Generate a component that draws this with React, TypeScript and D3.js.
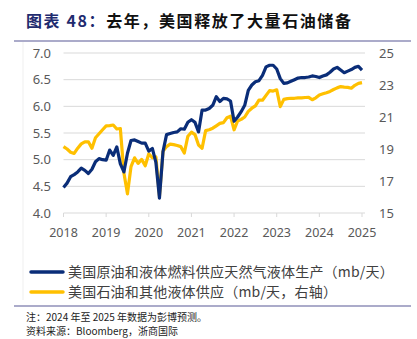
import React from "react";
import * as d3 from "d3";

// Monthly data, Jan 2018 .. Jan 2025
const startYear = 2018;
const ngl: number[] = [
  4.48, 4.56, 4.68, 4.72, 4.77, 4.84, 4.80, 4.74, 4.82, 4.96, 5.02, 5.00,
  4.99, 5.18, 5.08, 5.24, 4.92, 4.77, 5.12, 5.36, 5.37, 5.34, 5.31, 5.31,
  5.16, 5.21, 4.95, 4.28, 5.15, 5.47, 5.49, 5.51, 5.52, 5.58, 5.57, 5.70,
  5.75, 5.70, 5.52, 5.93, 5.93, 5.96, 6.02, 6.18, 6.09, 6.15, 6.14, 6.10,
  5.72, 5.80, 5.90, 6.02, 6.30, 6.40, 6.46, 6.48, 6.58, 6.74, 6.77, 6.77,
  6.70, 6.52, 6.43, 6.44, 6.47, 6.50, 6.53, 6.54, 6.54, 6.55, 6.57, 6.56,
  6.54, 6.57, 6.59, 6.64, 6.70, 6.73, 6.68, 6.63, 6.66, 6.69, 6.73, 6.75,
  6.68,
];
const supply: number[] = [
  19.15, 19.00, 18.80, 18.72, 19.05, 19.32, 19.45, 19.45, 19.05, 19.70, 19.95, 20.20,
  20.44, 20.46, 20.50, 20.25, 20.28, 17.50, 16.20, 17.90, 18.45, 18.10, 18.35, 17.95,
  18.70, 18.45, 18.50, 16.05, 18.85, 19.15, 19.30, 19.27, 19.22, 19.15, 18.75, 19.80,
  20.05, 19.90, 19.25, 19.05, 20.15, 20.20, 20.30, 20.45, 20.60, 20.65, 20.95, 21.05,
  20.20, 20.75, 20.85, 21.00, 21.35, 21.55, 21.70, 22.05, 22.05, 22.35, 22.65, 22.62,
  22.70, 21.65, 22.10, 22.15, 22.17, 22.17, 22.20, 22.20, 22.22, 22.23, 22.08, 22.20,
  22.38, 22.45, 22.52, 22.60, 22.72, 22.82, 22.90, 22.87, 22.85, 22.80, 22.98, 23.10,
  23.15,
];
const yearTicks = [2018, 2019, 2020, 2021, 2022, 2023, 2024, 2025];
const leftTicks = [4.0, 4.5, 5.0, 5.5, 6.0, 6.5, 7.0];
const rightTicks = [15, 17, 19, 21, 23, 25];
const seriesNames = [
  "美国原油和液体燃料供应天然气液体生产（mb/天）",
  "美国石油和其他液体供应（mb/天，右轴）",
];
const titlePrefix = "图表 48：";
const titleText = "去年，美国释放了大量石油储备";
const noteText = "注：2024 年至 2025 年数据为彭博预测。";
const sourceText = "资料来源：Bloomberg，浙商国际";

const BLUE = "#0a2d78";
const YELLOW = "#ffc000";

export default function App() {
  const W = 417, H = 339;
  const x = d3.scaleLinear().domain([0, 84]).range([63.5, 362]);
  const yL = d3.scaleLinear().domain([4, 7]).range([213, 53]);
  const yR = d3.scaleLinear().domain([15, 25]).range([213, 53]);
  const lineL = d3.line<number>().x((_, i) => x(i)).y((d) => yL(d)).curve(d3.curveLinear);
  const lineR = d3.line<number>().x((_, i) => x(i)).y((d) => yR(d)).curve(d3.curveLinear);
  const xm = (yr: number) => x((yr - startYear) * 12);
  const axisFont = "'Noto Sans', 'Open Sans', sans-serif";
  const cjk = "'Noto Sans CJK SC', sans-serif";

  return (
    <svg width={W} height={H} style={{ position: "absolute", left: 0, top: 0, background: "#fff" }}>
      <text x={26} y={27} fontFamily={cjk} fontSize={16} fontWeight="bold" letterSpacing={1.6}>
        <tspan fill="#1f2b6f">{titlePrefix}</tspan>
        <tspan fill="#111">{titleText}</tspan>
      </text>
      <line x1={14} x2={411} y1={41} y2={41} stroke="#8f8fb8" strokeWidth={1.5} />
      <line x1={23} x2={23} y1={42} y2={300} stroke="#efefef" strokeWidth={1} />

      {leftTicks.slice(1).map((t) => (
        <line key={t} x1={63.5} x2={365} y1={yL(t)} y2={yL(t)} stroke="#d9d9d9" strokeWidth={1} />
      ))}
      <line x1={63.5} x2={365} y1={yL(4)} y2={yL(4)} stroke="#d9d9d9" strokeWidth={1} />
      {yearTicks.map((yr) => (
        <line key={yr} x1={xm(yr)} x2={xm(yr)} y1={yL(4)} y2={yL(4) + 4} stroke="#d9d9d9" strokeWidth={1} />
      ))}

      {leftTicks.map((t) => (
        <text key={t} x={51} y={yL(t)} dy="0.35em" textAnchor="end" fontFamily={axisFont} fontSize={13} fill="#595959">
          {t.toFixed(1)}
        </text>
      ))}
      {rightTicks.map((t) => (
        <text key={t} x={379} y={yR(t)} dy="0.35em" textAnchor="start" fontFamily={axisFont} fontSize={13} fill="#595959">
          {t}
        </text>
      ))}
      {yearTicks.map((yr) => (
        <text key={yr} x={xm(yr)} y={233} dy="0.35em" textAnchor="middle" fontFamily={axisFont} fontSize={12.5} fill="#595959">
          {yr}
        </text>
      ))}

      <path d={lineR(supply) || ""} fill="none" stroke={YELLOW} strokeWidth={3.2} strokeLinejoin="round" />
      <path d={lineL(ngl) || ""} fill="none" stroke={BLUE} strokeWidth={3.2} strokeLinejoin="round" />

      {[BLUE, YELLOW].map((c, i) => (
        <g key={c}>
          <line x1={31} x2={63} y1={272 + i * 20} y2={272 + i * 20} stroke={c} strokeWidth={3.5} strokeLinecap="round" />
          <text x={68} y={272 + i * 20} dy="0.36em" fontFamily={cjk} fontSize={14} letterSpacing={0.2} fill="#404040">
            {seriesNames[i]}
          </text>
        </g>
      ))}

      <line x1={14} x2={411} y1={306} y2={306} stroke="#8f8fb8" strokeWidth={1.5} />
      <text x={26} y={317.5} dy="0.35em" fontFamily={cjk} fontSize={10} fill="#222">{noteText}</text>
      <text x={26} y={331.5} dy="0.35em" fontFamily={cjk} fontSize={10} fill="#222">{sourceText}</text>
    </svg>
  );
}
